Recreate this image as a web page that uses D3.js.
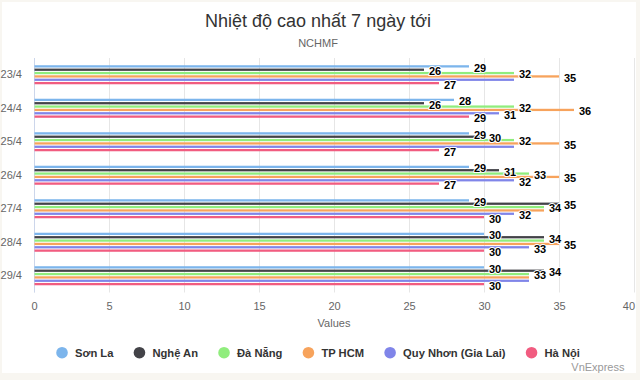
<!DOCTYPE html>
<html>
<head>
<meta charset="utf-8">
<script src="https://cdn.jsdelivr.net/npm/d3@7"></script>
<style>
  html, body { margin: 0; padding: 0; background: #f8f6f1; }
  svg { display: block; font-family: "Liberation Sans", Arial, Helvetica, sans-serif; }
</style>
</head>
<body>
<svg id="chart" width="640" height="380"></svg>
<script>
// ---- data ----
const categories = ["23/4", "24/4", "25/4", "26/4", "27/4", "28/4", "29/4"];
const seriesNames = ["Sơn La", "Nghệ An", "Đà Nẵng", "TP HCM", "Quy Nhơn (Gia Lai)", "Hà Nội"];
const sonLa   = [29, 28, 29, 29, 29, 30, 30];
const ngheAn  = [26, 26, 30, 31, 35, 34, 34];
const daNang  = [32, 32, 32, 33, 34, 34, 33];
const tpHCM   = [35, 36, 35, 35, 34, 35, 33];
const quyNhon = [32, 31, 32, 32, 32, 33, 33];
const haNoi   = [27, 29, 27, 27, 30, 30, 30];
const xTicks  = [0, 5, 10, 15, 20, 25, 30, 35, 40];
const titleText = "Nhiệt độ cao nhất 7 ngày tới";
const subtitleText = "NCHMF";
const axisTitle = "Values";
const creditText = "VnExpress";

const seriesValues = [sonLa, ngheAn, daNang, tpHCM, quyNhon, haNoi];
const colors = ["#7cb5ec", "#434348", "#90ed7d", "#f7a35c", "#8085e9", "#f15c80"];

// ---- layout ----
const plot = { left: 34, right: 634, top: 58, bottom: 292.5 };
const svg = d3.select("#chart");

svg.append("rect").attr("x", 2).attr("y", 2).attr("width", 634).attr("height", 371).attr("fill", "#ffffff");

const x = d3.scaleLinear().domain([0, 40]).range([plot.left, plot.right]);
const y0 = d3.scaleBand().domain(categories).range([plot.top, plot.bottom]);
const bw = y0.bandwidth();
const y1 = d3.scaleBand().domain(d3.range(seriesNames.length))
  .range([0.2 * bw, 0.8 * bw]).paddingInner(0.2).paddingOuter(0.1);

// title
svg.append("text").attr("x", 318).attr("y", 26.5).attr("text-anchor", "middle")
  .attr("font-size", 18).attr("fill", "#333333").text(titleText);
svg.append("text").attr("x", 318).attr("y", 47).attr("text-anchor", "middle")
  .attr("font-size", 11).attr("fill", "#666666").text(subtitleText);

// gridlines
svg.append("g").selectAll("line").data(xTicks).join("line")
  .attr("x1", d => Math.round(x(d)) + 0.5).attr("x2", d => Math.round(x(d)) + 0.5)
  .attr("y1", plot.top).attr("y2", plot.bottom)
  .attr("stroke", "#e6e6e6").attr("stroke-width", 1);

// value axis (bottom)
const xAxis = svg.append("g").attr("transform", `translate(0,${plot.bottom})`)
  .call(d3.axisBottom(x).tickValues(xTicks).tickSize(0).tickPadding(10));
xAxis.select(".domain").remove();
xAxis.selectAll("text").attr("font-size", 11).attr("fill", "#666666").attr("font-family", null);
xAxis.selectAll(".tick").filter(d => d === 40).select("text").attr("text-anchor", "end").attr("dx", "0.6");

svg.append("text").attr("x", (plot.left + plot.right) / 2).attr("y", 327)
  .attr("text-anchor", "middle").attr("font-size", 11).attr("fill", "#666666").text(axisTitle);

// category axis (left)
const yAxis = svg.append("g").attr("transform", `translate(${plot.left},0)`)
  .call(d3.axisLeft(y0).tickSize(0).tickPadding(12));
yAxis.select(".domain").attr("stroke", "#ccd6eb").attr("d", `M0.5,${plot.top}V${plot.bottom}`)
  .attr("transform", "translate(0,0)");
yAxis.selectAll("text").attr("font-size", 11).attr("fill", "#666666").attr("font-family", null);

// bars
const rows = [];
seriesValues.forEach((vals, s) => {
  vals.forEach((v, c) => rows.push({ s, c, v, cat: categories[c] }));
});

const barG = svg.append("g");
barG.selectAll("rect").data(rows).join("rect")
  .attr("x", x(0) + 0.5)
  .attr("y", d => y0(d.cat) + y1(d.s) + 0.2)
  .attr("width", d => x(d.v) - x(0) - 0.5)
  .attr("height", y1.bandwidth() - 0.4)
  .attr("fill", d => colors[d.s]);

// data labels
const labelG = svg.append("g");
const labels = labelG.selectAll("text").data(rows).join("text")
  .attr("x", d => x(d.v) + 5)
  .attr("y", d => y0(d.cat) + y1(d.s) + y1.bandwidth() / 2 + 5.4)
  .attr("font-size", 11).attr("font-weight", "bold").attr("fill", "#000000")
  .attr("stroke", "#ffffff").attr("stroke-width", 2).attr("stroke-linejoin", "round")
  .attr("paint-order", "stroke")
  .text(d => d.v);

// hide overlapping labels (higher value first, stable by series order)
const items = [];
labels.each(function (d, i) {
  const b = this.getBBox();
  items.push({ node: this, v: d.v, i, box: { x: b.x, y: b.y + 1, w: b.width, h: b.height - 2 } });
});
items.sort((a, b) => (b.v - a.v) || (a.i - b.i));
const shown = [];
items.forEach(it => {
  const hit = shown.some(o =>
    it.box.x < o.box.x + o.box.w && it.box.x + it.box.w > o.box.x &&
    it.box.y < o.box.y + o.box.h && it.box.y + it.box.h > o.box.y);
  if (hit) d3.select(it.node).attr("display", "none");
  else shown.push(it);
});

// legend
const legend = svg.append("g");
const legendY = 352.7;
const legItems = legend.selectAll("g").data(seriesNames).join("g");
legItems.append("circle").attr("r", 5.8).attr("cy", legendY).attr("fill", (d, i) => colors[i]);
legItems.append("text").attr("y", legendY + 4.2).attr("font-size", 11.2).attr("font-weight", "bold")
  .attr("fill", "#333333").text(d => d);
const widths = [];
legItems.select("text").each(function () { widths.push(this.getComputedTextLength()); });
let total = 6;
widths.forEach((w, i) => { total += 13 + w + (i < widths.length - 1 ? 26 : 0); });
let cx = 318 - total / 2 + 6;
legItems.each(function (d, i) {
  const g = d3.select(this);
  g.select("circle").attr("cx", cx);
  g.select("text").attr("x", cx + 13);
  cx = cx + 13 + widths[i] + 26;
});

// credits
svg.append("text").attr("x", 624.5).attr("y", 370.5).attr("text-anchor", "end")
  .attr("font-size", 11).attr("fill", "#999999").text(creditText);
</script>
</body>
</html>
